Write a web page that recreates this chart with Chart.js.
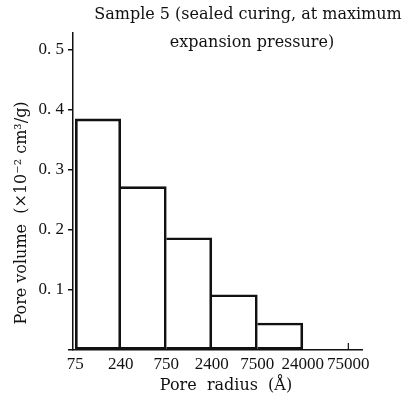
<!DOCTYPE html>
<html>
<head>
<meta charset="utf-8">
<script src="https://cdn.jsdelivr.net/npm/chart.js@4"></script>
<style>
  body { margin: 0; background: #fff; }
  canvas { display: block; }
</style>
</head>
<body>
<canvas id="chart" width="415" height="399"></canvas>
<script>
// bin edges (pore radius, Angstrom) and pore volume per bin
var radiusLabels = ['75', '240', '750', '2400', '7500', '24000', '75000'];
var poreVolume = [0.385, 0.272, 0.187, 0.092, 0.045, 0];
var volumeTicks = ['0. 1', '0. 2', '0. 3', '0. 4', '0. 5'];

var titleLines = ['Sample 5 (sealed curing, at maximum', 'expansion pressure)'];
var xTitle = 'Pore  radius  (\u00c5)';
var yTitle = 'Pore volume  (\u00d710\u207b\u00b2 cm\u00b3/g)';

var ink = '#111';
var serif = '"Liberation Serif", serif';

// titles sit partly beside the plot, so they are drawn by hand
var textPlugin = {
    id: 'textPlugin',
    afterDraw: function (chart) {
        var ctx = chart.ctx;
        ctx.save();
        ctx.fillStyle = ink;
        ctx.textAlign = 'center';
        ctx.textBaseline = 'middle';
        ctx.font = '16px "DejaVu Serif"';
        ctx.fillText(titleLines[0], 248, 15);
        ctx.fillText(titleLines[1], 252, 43);
        ctx.fillText(xTitle, 226, 386);
        ctx.translate(22, 213);
        ctx.rotate(-Math.PI / 2);
        ctx.fillText(yTitle, 0, 0);
        ctx.restore();

        // small upward tick at the last edge
        var x = chart.scales.x.getPixelForValue(radiusLabels.length - 1);
        var y = chart.scales.y.getPixelForValue(0);
        ctx.save();
        ctx.strokeStyle = ink;
        ctx.lineWidth = 1.2;
        ctx.beginPath();
        ctx.moveTo(x, y);
        ctx.lineTo(x, y - 7);
        ctx.stroke();
        ctx.restore();
    }
};

var ctx = document.getElementById('chart').getContext('2d');
new Chart(ctx, {
    type: 'bar',
    data: {
        datasets: [{
            data: poreVolume.map(function (v, i) { return { x: i + 0.5, y: v }; }),
            backgroundColor: 'rgba(0,0,0,0)',
            borderColor: ink,
            borderWidth: 2,
            borderSkipped: function (c) { return c.dataIndex === 0 ? false : 'left'; },
            barPercentage: 1,
            categoryPercentage: 1
        }]
    },
    options: {
        responsive: false,
        animation: false,
        layout: { padding: { top: 33, right: 53, bottom: 0, left: 0 } },
        plugins: {
            legend: { display: false },
            tooltip: { enabled: false }
        },
        scales: {
            x: {
                type: 'linear',
                min: -0.05,
                max: 6.3,
                offset: false,
                afterFit: function (scale) { scale.height = 49; },
                grid: { offset: false, drawOnChartArea: false, drawTicks: false },
                border: { color: ink, width: 1.5 },
                ticks: {
                    stepSize: 1,
                    includeBounds: false,
                    autoSkip: false,
                    maxRotation: 0,
                    padding: 4,
                    color: ink,
                    font: { family: serif, size: 17 },
                    callback: function (v) { return radiusLabels[v]; }
                }
            },
            y: {
                min: 0,
                max: 0.528,
                afterFit: function (scale) { scale.width = 73; },
                grid: { drawOnChartArea: false, drawTicks: true, tickLength: 5, color: ink, lineWidth: 1.5 },
                border: { color: ink, width: 1.5 },
                ticks: {
                    stepSize: 0.1,
                    includeBounds: false,
                    padding: 4,
                    color: ink,
                    font: { family: serif, size: 17 },
                    callback: function (v) {
                        var i = Math.round(v * 10);
                        return i === 0 ? '' : volumeTicks[i - 1];
                    }
                }
            }
        }
    },
    plugins: [textPlugin]
});
</script>
</body>
</html>
